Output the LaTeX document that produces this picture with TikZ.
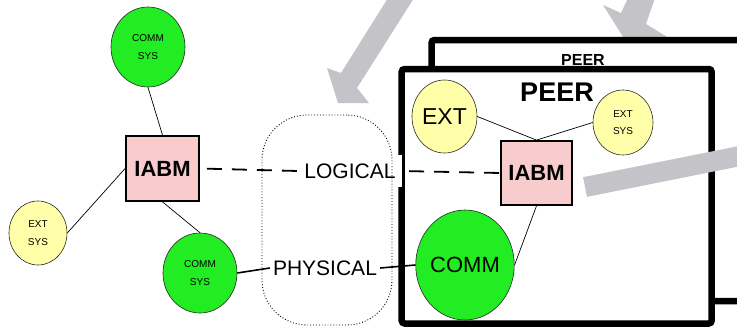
\documentclass[tikz,border=0pt]{standalone}
\usepackage{fontspec}
\setmainfont{Liberation Sans}
\usetikzlibrary{shapes.geometric}
\pgfdeclarelayer{back}
\pgfdeclarelayer{mid}
\pgfdeclarelayer{front}
\pgfsetlayers{back,mid,main,front}
\definecolor{cgreen}{RGB}{34,236,34}
\definecolor{cyellow}{RGB}{255,255,170}
\definecolor{cpink}{RGB}{248,204,204}
\definecolor{cgray}{RGB}{196,196,200}
\tikzset{
  sysell/.style={ellipse, draw=black!85, line width=0.6pt, inner sep=0pt, align=center, font=\fontsize{10}{18}\selectfont},
  iabm/.style={draw, line width=1.8pt, fill=cpink, inner sep=0pt, font=\fontsize{22}{26}\selectfont\bfseries},
  peerbox/.style={draw, line width=6.5pt, fill=white, rounded corners=3pt},
  conn/.style={line width=0.7pt},
  dashline/.style={line width=1.8pt, dash pattern=on 15pt off 10pt, dash phase=18pt},
  physline/.style={line width=1.6pt},
  lbl/.style={fill=white, inner sep=0pt, font=\fontsize{21}{24}\selectfont}
}
\begin{document}
\begin{tikzpicture}[x=1pt,y=-1pt]
\useasboundingbox (0,0) rectangle (737,327);

\begin{pgfonlayer}{back}
  \fill[white] (0,0) rectangle (737,327);
  \fill[cgray] (388,-2) -- (414,-2) -- (357,88) -- (369,103) -- (338,103) -- (327,68) -- (341,73) -- cycle;
  \fill[cgray] (628,-2) -- (655,-2) -- (646,24) -- (672,40) -- (625,40) -- (603,5) -- (621,13) -- cycle;
  \draw[peerbox] (431.5,40) rectangle (770,301);
  \node[font=\fontsize{16}{18}\selectfont\bfseries, inner sep=0pt] (peerback) at (583,60) {PEER};
  \draw[peerbox] (401.7,69) rectangle (711.7,323.5);
  \node[font=\fontsize{27}{30}\selectfont\bfseries, inner sep=0pt] (peerfront) at (557,92) {PEER};
  \draw[line width=20pt, cgray] (585,187) -- (760,152);
\end{pgfonlayer}

\node[sysell, fill=cgreen, minimum width=74pt, minimum height=80pt] (commT) at (148,47) {COMM\\SYS};
\node[sysell, fill=cyellow, minimum width=58pt, minimum height=64pt] (extL) at (38,233) {EXT\\SYS};
\node[sysell, fill=cgreen, minimum width=74pt, minimum height=80pt] (commB) at (200,273) {COMM\\SYS};
\node[iabm, minimum width=73pt, minimum height=65pt] (iabmL) at (162.5,168.5) {IABM};
\node[iabm, minimum width=71pt, minimum height=64pt] (iabmR) at (536.5,173) {IABM};
\node[sysell, fill=cyellow, minimum width=65pt, minimum height=73pt, font=\fontsize{23}{26}\selectfont] (ext) at (444.5,116.5) {EXT};
\node[sysell, fill=cyellow, minimum width=60pt, minimum height=65pt, font=\fontsize{10}{17}\selectfont] (extR) at (623,122.5) {EXT\\SYS};
\node[sysell, fill=cgreen, minimum width=96pt, minimum height=110pt, font=\fontsize{22}{26}\selectfont] (comm) at (465,265) {COMM};
\node[lbl, minimum width=104pt, minimum height=32pt] (logical) at (350,171) {LOGICAL};
\node[lbl, minimum width=110pt, minimum height=30pt] (physical) at (325,268) {PHYSICAL};

\begin{pgfonlayer}{mid}
  \draw[conn] (commT.south) -- (iabmL.north);
  \draw[conn] (extL.east) -- (iabmL.west);
  \draw[conn] (iabmL.south) -- (commB.north);
  \draw[conn] (ext.east) -- (iabmR.north);
  \draw[conn] (extR.west) -- (iabmR.north);
  \draw[conn] (comm.east) -- (iabmR.south);
  \draw[dashline] (iabmL.east) -- (logical.west);
  \draw[dashline] (logical.east) -- (iabmR.west);
  \draw[physline] (commB.east) -- (physical.west);
  \draw[physline] (physical.east) -- (comm.west);
\end{pgfonlayer}

\begin{pgfonlayer}{front}
  \node[draw, dash pattern=on 0.9pt off 2pt, line width=0.9pt, rounded corners=45pt, minimum width=130pt, minimum height=210pt] (cloud) at (327,220) {};
\end{pgfonlayer}
\end{tikzpicture}
\end{document}
